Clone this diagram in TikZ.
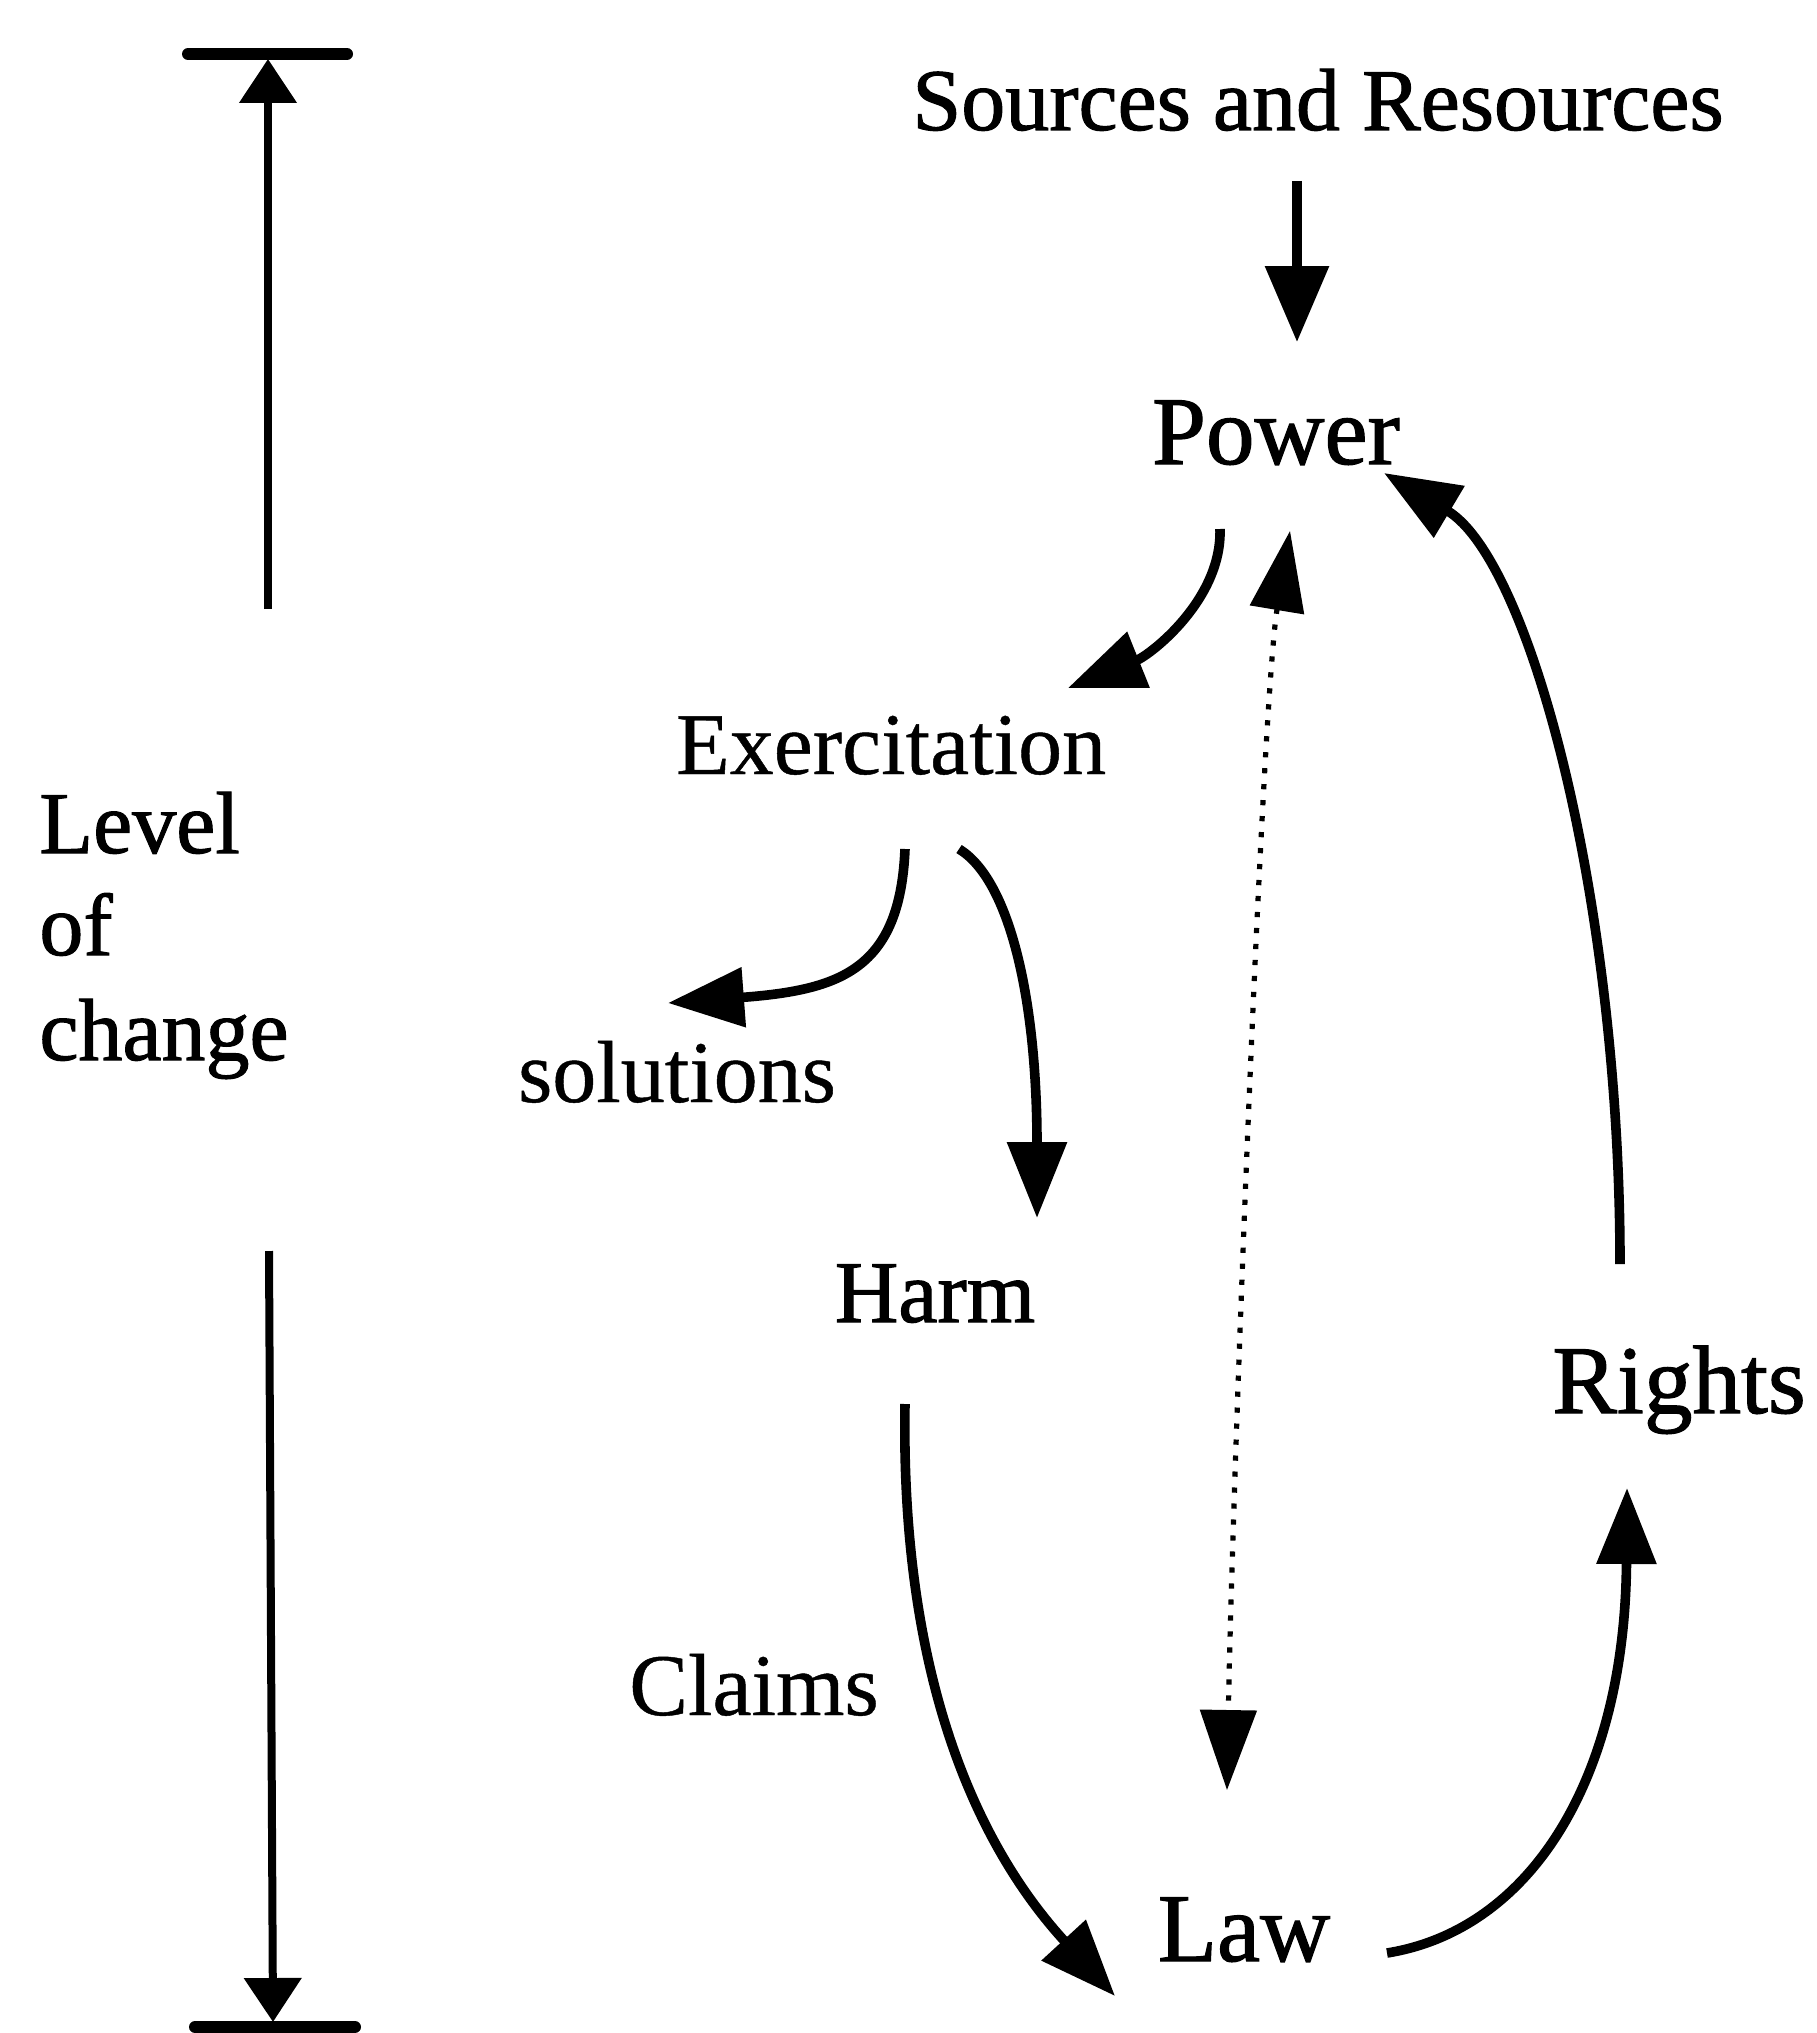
\documentclass[tikz,border=0pt]{standalone}
\usepackage{fontspec}
\setmainfont{Liberation Serif}
\newfontfamily\heavyserif{Liberation Serif}[FakeBold=1.2]
\newfontfamily\lightserif{Liberation Serif}[FakeBold=0.5]
\usetikzlibrary{arrows.meta}
\begin{document}
\begin{tikzpicture}[x=0.5pt,y=-0.5pt,
  lbl/.style={inner sep=0pt, anchor=base, font=\lightserif\fontsize{44}{52}\selectfont},
  lblheavy/.style={lbl, font=\heavyserif\fontsize{44}{52}\selectfont},
  lblbig/.style={lbl, font=\heavyserif\fontsize{48.5}{56}\selectfont},
  lvl/.style={lblheavy, anchor=base west},
  flow/.style={line width=4.8pt, -{Triangle[length=38pt,width=29pt]}},
  scalearrow/.style={line width=4pt, -{Triangle[length=22pt,width=28pt]}},
  barline/.style={line width=6pt, line cap=round},
  dotline/.style={line width=2.6pt, dash pattern=on 2.6pt off 5.4pt,
    {Triangle[length=40pt,width=27pt]}-{Triangle[length=40pt,width=28pt]}}
]
\useasboundingbox (0,0) rectangle (1816,2033);

% labels
\node[lblheavy] (src) at (1318,130) {Sources and Resources};
\node[lblbig] (power) at (1276,464) {Power};
\node[lbl] (exer) at (891,774) {Exercitation};
\node[lbl] (sol) at (677,1102) {solutions};
\node[lblheavy] (harm) at (935,1322) {Harm};
\node[lbl] (claims) at (754,1715) {Claims};
\node[lblbig] (law) at (1244,1961) {Law};
\node[lblbig] (rights) at (1679,1413) {Rights};
\node[lvl] (lv1) at (39,853) {Level};
\node[lvl] (lv2) at (39,955) {of};
\node[lvl] (lv3) at (39,1060) {change};

% scale on the left
\coordinate (topbar-l) at (188,54);
\coordinate (topbar-r) at (347,54);
\coordinate (botbar-l) at (195,2027);
\coordinate (botbar-r) at (355,2027);
\coordinate (up-from) at (268,609);
\coordinate (up-to) at (268,59);
\coordinate (down-from) at (269,1251);
\coordinate (down-to) at (273,2022);
\draw[barline] (topbar-l) -- (topbar-r);
\draw[barline] (botbar-l) -- (botbar-r);
\draw[scalearrow] (up-from) -- (up-to);
\draw[scalearrow] (down-from) -- (down-to);

% connector end points
\coordinate (src-out) at (1297,181);
\coordinate (pw-in) at (1297,342);
\coordinate (pw-out) at (1220,529);
\coordinate (ex-in) at (1068,688);
\coordinate (pw-dot) at (1290,531);
\coordinate (law-dot) at (1227,1790);
\coordinate (ex-outl) at (905,849);
\coordinate (sol-in) at (668,1003);
\coordinate (ex-outr) at (959,849);
\coordinate (harm-in) at (1037,1218);
\coordinate (harm-out) at (905,1404);
\coordinate (law-in) at (1115,1996);
\coordinate (law-out) at (1387,1953);
\coordinate (rt-in) at (1627,1488);
\coordinate (rt-out) at (1620,1264);
\coordinate (pw-in2) at (1384,473);

% connectors
\draw[flow, -{Triangle[length=38pt,width=31pt]}] (src-out) -- (pw-in);
\draw[flow] (pw-out) .. controls (1222,600) and (1150,655) .. (ex-in);
\draw[dotline] (pw-dot) .. controls (1262,700) and (1232,1500) .. (law-dot);
\draw[flow] (ex-outl) .. controls (900,970) and (840,990) .. (sol-in);
\draw[flow] (ex-outr) .. controls (1010,880) and (1037,1000) .. (harm-in);
\draw[flow] (harm-out) .. controls (900,1700) and (990,1860) .. (law-in);
\draw[flow] (law-out) .. controls (1530,1930) and (1625,1780) .. (rt-in);
\draw[flow] (rt-out) .. controls (1620,900) and (1530,560) .. (pw-in2);
\end{tikzpicture}
\end{document}
